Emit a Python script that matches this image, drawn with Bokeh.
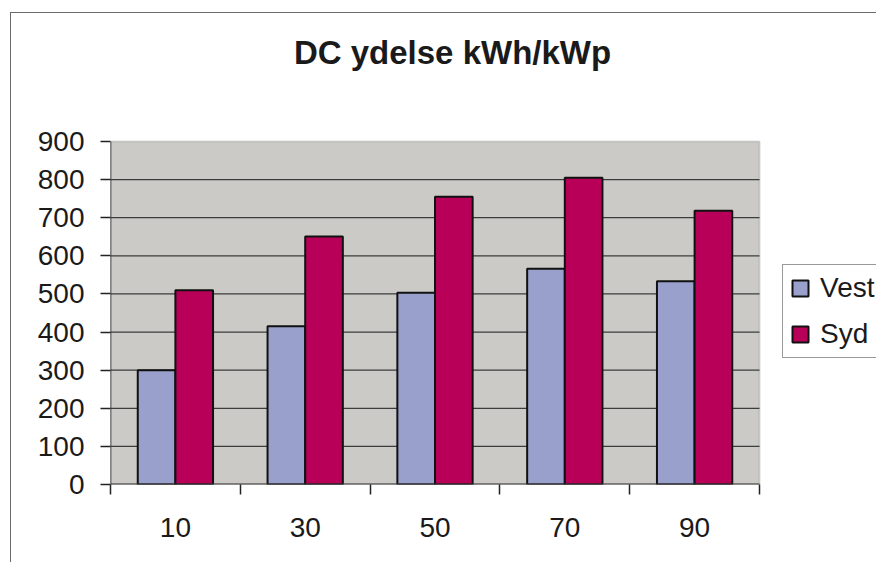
from bokeh.plotting import figure
from bokeh.models import (Range1d, FixedTicker, Legend, LegendItem, ColumnDataSource,
                          BoxAnnotation, Label, InlineStyleSheet)
from bokeh.transform import dodge
from bokeh.embed import file_html
from bokeh.resources import INLINE

# ---- data ----
categories = ["10", "30", "50", "70", "90"]
vest = [300, 415, 503, 566, 533]
syd = [510, 651, 755, 805, 718]
y_ticks = [0, 100, 200, 300, 400, 500, 600, 700, 800, 900]
title_text = "DC ydelse kWh/kWp"
series_names = ["Vest", "Syd"]

VEST_COLOR = "#9AA0CC"
SYD_COLOR = "#B80058"
BG = "#CBCAC6"
FONT = "Liberation Sans"
TXT = "#1a1a1a"
BORDER = "#6a6a6a"

# layout constants (pixels)
W, H = 876, 562
LEFT, BOTTOM = 110, 78
AREA_TOP = 141             # top of the grey plot area
FRAME_TOP = 20             # frame extends upwards to hold the title
PLOT_AREA_W = 649
PLOT_AREA_H = H - BOTTOM - AREA_TOP
FRAME_W = W - LEFT
FRAME_H = H - BOTTOM - FRAME_TOP
TITLE_CX, TITLE_BASE = 452, 52

n = len(categories)
centers = [i + 0.5 for i in range(n)]
src = ColumnDataSource(dict(x=centers, vest=vest, syd=syd))
grid_src = ColumnDataSource(dict(y=y_ticks[1:-1]))

p = figure(width=W, height=H, output_backend="svg", toolbar_location=None,
           x_range=Range1d(0, n * FRAME_W / PLOT_AREA_W),
           y_range=Range1d(y_ticks[0], y_ticks[-1] * FRAME_H / PLOT_AREA_H),
           min_border_left=LEFT, min_border_right=0, min_border_top=FRAME_TOP,
           min_border_bottom=BOTTOM)
p.background_fill_color = "white"
p.border_fill_color = "white"
p.outline_line_color = None
p.xgrid.visible = False
p.ygrid.visible = False
# outer chart-area border (left and top edges visible, rest cropped)
p.stylesheets = [InlineStyleSheet(css=(
    ":host { position: relative; }"
    ":host::before { content: ''; position: absolute; left: 10px; top: 12px; "
    "width: 2000px; height: 2000px; z-index: 5; "
    "border-left: 1.5px solid " + BORDER + "; "
    "border-top: 1.5px solid " + BORDER + "; pointer-events: none; "
    "clip-path: inset(0 0 0 0); }"
    ":host { overflow: hidden; }"))]

# grey plot area with its border
area = BoxAnnotation(left=0, right=n, bottom=y_ticks[0], top=y_ticks[-1],
                     fill_color=BG, fill_alpha=1, line_color="#858585", line_width=2,
                     level="underlay")
p.add_layout(area)

# horizontal gridlines limited to the plot area
p.segment(x0=0, x1=n, y0="y", y1="y", source=grid_src,
          line_color="#3c3c3c", line_width=1.3)

bw = 0.29
r_vest = p.vbar(x=dodge("x", -0.145, range=p.x_range), top="vest", width=bw, bottom=0,
                source=src, fill_color=VEST_COLOR, line_color="#111111", line_width=2)
r_syd = p.vbar(x=dodge("x", 0.145, range=p.x_range), top="syd", width=bw, bottom=0,
               source=src, fill_color=SYD_COLOR, line_color="#111111", line_width=2)

# axis lines limited to plot area
p.segment(x0=[0], x1=[n], y0=[0], y1=[0], line_color="#333333", line_width=2)
p.segment(x0=[0], x1=[0], y0=[y_ticks[0]], y1=[y_ticks[-1]], line_color="#222222",
          line_width=1.5)

# y axis
ya = p.yaxis[0]
ya.ticker = FixedTicker(ticks=y_ticks)
ya.major_tick_out = 10
ya.major_tick_in = 0
ya.minor_tick_out = 0
ya.minor_tick_in = 0
ya.major_tick_line_color = "#222222"
ya.major_tick_line_width = 1.5
ya.axis_line_color = None
ya.major_label_standoff = 16
ya.major_label_text_font = FONT
ya.major_label_text_font_size = "28px"
ya.major_label_text_color = TXT

# x axis: labels at centers, ticks at category boundaries
xa = p.xaxis[0]
xa.ticker = FixedTicker(ticks=centers, minor_ticks=list(range(n + 1)))
xa.major_label_overrides = {c: lab for c, lab in zip(centers, categories)}
xa.major_tick_out = 0
xa.major_tick_in = 0
xa.minor_tick_out = 10
xa.minor_tick_in = 0
xa.minor_tick_line_color = "#222222"
xa.minor_tick_line_width = 1.5
xa.axis_line_color = None
xa.major_label_standoff = 23
xa.major_label_text_font = FONT
xa.major_label_text_font_size = "28px"
xa.major_label_text_color = TXT

# legend (inside the extended frame, right of the plot area)
legend = Legend(items=[LegendItem(label=series_names[0], renderers=[r_vest]),
                       LegendItem(label=series_names[1], renderers=[r_syd])],
                location=(672, 126))
legend.label_text_font = FONT
legend.label_text_font_size = "28px"
legend.label_text_color = TXT
legend.glyph_width = 20
legend.glyph_height = 20
legend.label_standoff = 10
legend.padding = 7
legend.spacing = 14
legend.margin = 0
legend.border_line_color = "#333333"
legend.border_line_width = 1.5
legend.background_fill_color = "white"
legend.background_fill_alpha = 1
p.add_layout(legend)

# title (frame-relative screen units: x from left, y from bottom)
title = Label(x=TITLE_CX - LEFT, y=H - BOTTOM - TITLE_BASE, x_units="screen",
              y_units="screen", text=title_text, text_font=FONT,
              text_font_style="bold", text_font_size="33px", text_color=TXT,
              text_align="center", text_baseline="alphabetic")
p.add_layout(title)

open("out.html", "w").write(file_html(p, INLINE))
